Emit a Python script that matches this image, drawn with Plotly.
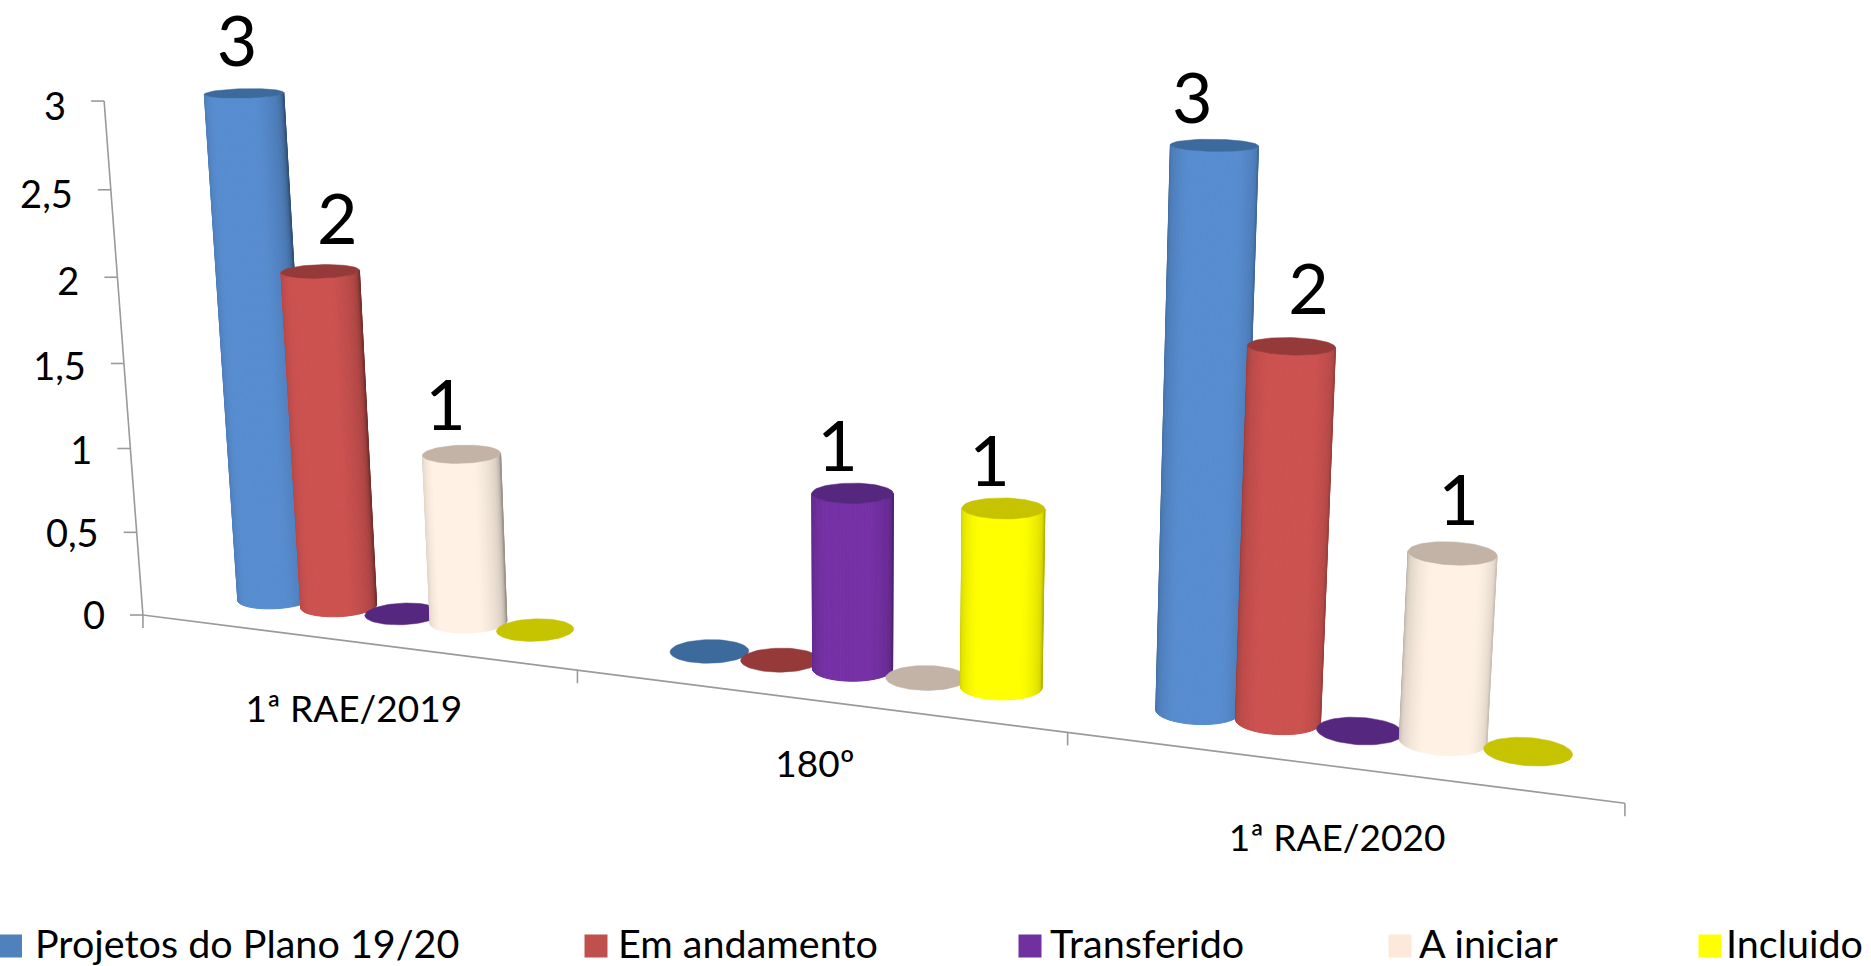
import numpy as np
import plotly.graph_objects as go

# ---------- data ----------
categories = ["1ª RAE/2019", "180º", "1ª RAE/2020"]
series_names = ["Projetos do Plano 19/20", "Em andamento", "Transferido", "A iniciar", "Incluido"]
projetos = [3, 0, 3]
em_andamento = [2, 0, 2]
transferido = [0, 1, 0]
a_iniciar = [1, 0, 1]
incluido = [0, 1, 0]
value_ticks = [0, 0.5, 1, 1.5, 2, 2.5, 3]
value_tick_labels = ["0", "0,5", "1", "1,5", "2", "2,5", "3"]

# ---------- style ----------
body_colors = ["#578dd0", "#cc5250", "#7531a5", "#fff2e4", "#ffff00"]
top_colors = ["#3c6a9c", "#953a38", "#55277f", "#c2b3a6", "#c6c300"]
legend_colors = ["#4f81bd", "#c0504d", "#7030a0", "#fde9d9", "#ffff00"]
FONT = "Lato"
AXIS_COLOR = "#9a9a9a"
W, H = 1871, 966

# ---------- perspective of the 3-D chart box ----------
CX, CY, F = 851.0, 483.0, 3069.0
ORIGIN = np.array([-487.0, -90.8, 2110.8])
W_X = np.array([0.9286, -0.0919, -0.3596])
W_Z = np.array([0.0, 0.9689, -0.2474])
W_Y = np.array([0.3711, 0.2297, 0.8997])
AXIS_LEN = 1000.0
UNIT_PER_VALUE = 353.6 / 3
BAR_DEPTH = 69.0
BAR_STEP = 51.0
BAR_R = 26.0
CAMERA = -np.array([ORIGIN @ W_X, ORIGIN @ W_Y, ORIGIN @ W_Z])
LIGHT_ANGLE = np.radians(15)


def project(along, depth, value):
    along, depth, value = np.broadcast_arrays(np.asarray(along, float), np.asarray(depth, float), np.asarray(value, float))
    p = ORIGIN[:, None] + W_X[:, None] * along.ravel() + W_Y[:, None] * depth.ravel() + W_Z[:, None] * (value.ravel() * UNIT_PER_VALUE)
    lean = 5.4 * np.clip(1 - along.ravel() / 500, 0, None) * value.ravel() / 3
    u = p[0] - lean
    return CX + F * u / p[2], CY - F * p[1] / p[2]


def shade(hex_color, factor):
    rgb = [int(hex_color[i:i + 2], 16) for i in (1, 3, 5)]
    return "rgb(%d,%d,%d)" % tuple(min(255, round(c * factor)) for c in rgb)


def polygon(x, y, color, line=1.0):
    return go.Scatter(x=list(x) + [x[0]], y=list(y) + [y[0]], mode="lines", fill="toself",
                      fillcolor=color, line=dict(color=color, width=line), hoverinfo="skip", showlegend=False)


traces = []

# ---------- axes ----------
def line_trace(x, y):
    return go.Scatter(x=x, y=y, mode="lines", line=dict(color=AXIS_COLOR, width=1.6), hoverinfo="skip", showlegend=False)


def text_trace(x, y, s, size, pos="middle center"):
    return go.Scatter(x=x, y=y, text=s, mode="text", textposition=pos, hoverinfo="skip", showlegend=False,
                      textfont=dict(family=FONT, size=size, color="#000000"), cliponaxis=False)


ax, ay = project(0, 0, np.array(value_ticks))
traces.append(line_trace(list(ax), list(ay)))
for x, y in zip(ax, ay):
    traces.append(line_trace([x - 13, x], [y, y]))
traces.append(text_trace(list(ax - 13 - 25), list(ay + 4.5 + 1.8 * np.array(value_ticks)), value_tick_labels, 38, "middle left"))

edges = np.arange(len(categories) + 1) / len(categories) * AXIS_LEN
ex, ey = project(edges, 0, 0)
traces.append(line_trace(list(ex), list(ey)))
for x, y in zip(ex, ey):
    traces.append(line_trace([x, x], [y, y + 13]))
centers = (np.arange(len(categories)) + 0.5) / len(categories) * AXIS_LEN
cx, cy = project(centers, 0, 0)
CAT_DY = [71, 67, 75]
traces.append(text_trace(list(cx), [y + d for y, d in zip(cy, CAT_DY)], categories, 37))

# ---------- cylinders ----------
all_series = [projetos, em_andamento, transferido, a_iniciar, incluido]
LABEL_NUDGE = {(0, 0): (-7, -45), (0, 1): (17, -45), (0, 3): (-16, -42), (1, 2): (-15, -40), (1, 4): (-14, -40),
               (2, 0): (-22, -40), (2, 1): (17, -50), (2, 3): (6, -46)}
label_x, label_y, label_text = [], [], []
theta_circle = np.linspace(0, 2 * np.pi, 72, endpoint=False)
STRIPS = 40
for g in range(len(categories)):
    for s, vals in enumerate(all_series):
        v = vals[g]
        along = centers[g] - 2 + BAR_STEP * (s - 2)
        if v > 0:
            phi = np.arctan2(CAMERA[1] - BAR_DEPTH, CAMERA[0] - along)
            half = np.arccos(BAR_R / np.hypot(CAMERA[0] - along, CAMERA[1] - BAR_DEPTH))
            th = np.linspace(phi - half, phi + half, STRIPS + 1)
            for t0, t1 in zip(th[:-1], th[1:]):
                tm = (t0 + t1) / 2
                normal_from_front = np.arctan2(np.cos(tm), -np.sin(tm))  # angle of normal measured from -Y towards +X
                c = np.cos(normal_from_front - LIGHT_ANGLE)
                factor = np.interp(c, [-0.5, -0.3, -0.1, 0.1, 0.3, 0.6, 0.85, 1], [0.48, 0.55, 0.66, 0.78, 0.87, 0.94, 1, 1])
                tt = np.array([t0, t1, t1, t0])
                hh = np.array([0, 0, v, v], float)
                px, py = project(along + BAR_R * np.cos(tt), BAR_DEPTH + BAR_R * np.sin(tt), hh)
                traces.append(polygon(px, py, shade(body_colors[s], factor)))
        px, py = project(along + BAR_R * np.cos(theta_circle), BAR_DEPTH + BAR_R * np.sin(theta_circle), v)
        traces.append(polygon(px, py, top_colors[s], 0.5))
        if v > 0:
            lx, ly = project(along, BAR_DEPTH, v)
            nx, ny = LABEL_NUDGE[(g, s)]
            label_x.append(lx[0] + nx)
            label_y.append(ly[0] + ny)
            label_text.append(str(v))
traces.append(text_trace(label_x, label_y, label_text, 70))

# ---------- legend row ----------
LEGEND_Y = 947
legend_swatch_x = [10.5, 596, 1030, 1400, 1710]
legend_text_x = [35, 618, 1050, 1419, 1726]
traces.append(go.Scatter(x=legend_swatch_x, y=[LEGEND_Y - 1] * 5, mode="markers", hoverinfo="skip", showlegend=False,
                         marker=dict(symbol="square", size=23, color=legend_colors, line=dict(width=0)), cliponaxis=False))
traces.append(text_trace(legend_text_x, [LEGEND_Y + 1] * 5, series_names, 39.5, "middle right"))

fig = go.Figure(traces)
fig.update_layout(width=W, height=H, margin=dict(l=0, r=0, t=0, b=0), paper_bgcolor="white", plot_bgcolor="white",
                  xaxis=dict(range=[0, W], visible=False, fixedrange=True),
                  yaxis=dict(range=[H, 0], visible=False, fixedrange=True))
fig.write_html("out.html", config={"displayModeBar": False},
               post_script="document.body.style.margin='0';document.body.style.overflow='hidden';")
